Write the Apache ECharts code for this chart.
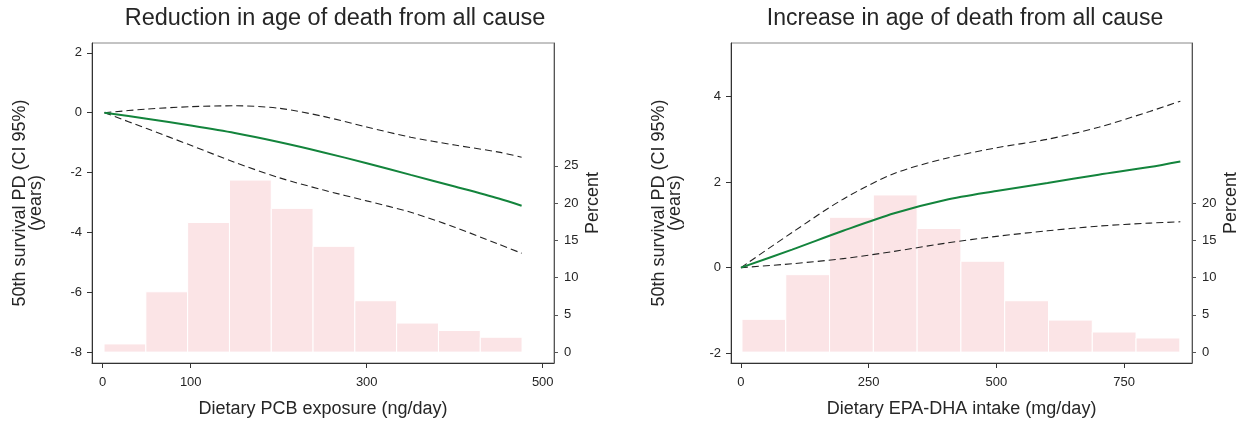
<!DOCTYPE html>
<html>
<head>
<meta charset="utf-8">
<script src="https://cdn.jsdelivr.net/npm/echarts@6/dist/echarts.min.js"></script>
<style>
html,body{margin:0;padding:0;background:#fff;}
#chart{width:1241px;height:423px;}
</style>
</head>
<body>
<div id="chart"></div>
<script>
// ---- Left panel: PCB ----
const pcbTitle = 'Reduction in age of death from all cause';
const pcbXName = 'Dietary PCB exposure (ng/day)';
const pcbXTicks = [0, 100, 300, 500];
const pcbYTicks = [-8, -6, -4, -2, 0, 2];
const pcbPctTicks = [0, 5, 10, 15, 20, 25];
const pcbEdges = [1.5, 49, 96.5, 144, 191.5, 239, 286.5, 334, 381.5, 429, 476.5];
const pcbPercent = [1.1, 8.1, 17.4, 23.1, 19.3, 14.2, 6.9, 3.9, 2.9, 2.0];
const pcbX = [2, 50, 100, 150, 200, 250, 300, 350, 400, 450, 476];
const pcbEst = [0, -0.2, -0.43, -0.68, -0.98, -1.32, -1.69, -2.08, -2.47, -2.87, -3.11];
const pcbUpper = [0, 0.12, 0.2, 0.23, 0.15, -0.12, -0.48, -0.82, -1.08, -1.32, -1.49];
const pcbLower = [0, -0.53, -1.09, -1.66, -2.17, -2.58, -2.95, -3.33, -3.83, -4.40, -4.70];

// ---- Right panel: EPA-DHA ----
const epaTitle = 'Increase in age of death from all cause';
const epaXName = 'Dietary EPA-DHA intake (mg/day)';
const epaXTicks = [0, 250, 500, 750];
const epaYTicks = [-2, 0, 2, 4];
const epaPctTicks = [0, 5, 10, 15, 20];
const epaEdges = [2, 87.7, 173.4, 259.1, 344.8, 430.5, 516.2, 601.9, 687.6, 773.3, 859];
const epaPercent = [4.4, 10.4, 18.1, 21.1, 16.6, 12.2, 6.9, 4.3, 2.7, 1.9];
const epaX = [0, 100, 200, 300, 400, 500, 600, 700, 800, 860];
const epaEst = [0, 0.42, 0.86, 1.27, 1.58, 1.79, 1.98, 2.17, 2.35, 2.48];
const epaUpper = [0, 0.82, 1.6, 2.2, 2.55, 2.8, 3.0, 3.28, 3.65, 3.89];
const epaLower = [0, 0.09, 0.21, 0.38, 0.57, 0.73, 0.86, 0.97, 1.04, 1.07];

const yName = '50th survival PD (CI 95%)\n(years)';
const pctName = 'Percent';

const FONT = "'Liberation Sans', Arial, sans-serif";
const TXT = '#262626';
const AX = '#333';
const PINK = '#fbe4e6';
const GREEN = '#13843c';

function zip(xs, ys) { return xs.map((x, i) => [x, ys[i]]); }
function bins(edges, pct) { return pct.map((p, i) => [edges[i], edges[i + 1], p]); }

function renderBar(params, api) {
  const x0 = api.value(0), x1 = api.value(1), h = api.value(2);
  const p0 = api.coord([x0, 0]);
  const p1 = api.coord([x1, h]);
  return {
    type: 'rect',
    shape: { x: p0[0], y: p1[1], width: p1[0] - p0[0], height: p0[1] - p1[1] },
    style: { fill: PINK, stroke: '#ffffff', lineWidth: 1 }
  };
}

function xAxis(grid, min, max, ticks, name) {
  return {
    type: 'value', gridIndex: grid, min: min, max: max, position: 'bottom',
    name: name, nameLocation: 'middle', nameGap: 37,
    nameTextStyle: { fontSize: 18, color: TXT, fontFamily: FONT },
    splitLine: { show: false },
    axisLine: { show: true, onZero: false, lineStyle: { color: AX, width: 1 } },
    axisTick: { show: true, length: 5, customValues: ticks, lineStyle: { color: AX } },
    axisLabel: { customValues: ticks, fontSize: 13, color: TXT, fontFamily: FONT, margin: 13 }
  };
}
function yAxis(grid, min, max, ticks, name) {
  return {
    type: 'value', gridIndex: grid, min: min, max: max, position: 'left',
    name: name, nameLocation: 'middle', nameGap: 48,
    nameTextStyle: { fontSize: 18, lineHeight: 16, color: TXT, fontFamily: FONT },
    splitLine: { show: false },
    axisLine: { show: true, onZero: false, lineStyle: { color: AX, width: 1 } },
    axisTick: { show: true, length: 5, customValues: ticks, lineStyle: { color: AX } },
    axisLabel: { customValues: ticks, fontSize: 13, color: TXT, fontFamily: FONT, margin: 10 }
  };
}
function pctAxis(grid, ticks) {
  return {
    type: 'value', gridIndex: grid, min: -1.46, max: 41.5, position: 'right',
    name: pctName, nameLocation: 'middle', nameGap: 30,
    nameTextStyle: { fontSize: 18, color: TXT, fontFamily: FONT },
    splitLine: { show: false },
    axisLine: { show: true, onZero: false, lineStyle: { color: '#555', width: 1 } },
    axisTick: { show: true, length: 4, customValues: ticks, lineStyle: { color: '#555' } },
    axisLabel: { customValues: ticks, fontSize: 13, color: TXT, fontFamily: FONT, margin: 10 }
  };
}
function line(xi, yi, data, color, width, type) {
  return {
    type: 'line', xAxisIndex: xi, yAxisIndex: yi, data: data, symbol: 'none',
    smooth: 0.3, silent: true, z: 5,
    lineStyle: { color: color, width: width, type: type }
  };
}

const chart = echarts.init(document.getElementById('chart'), null, { renderer: 'canvas' });
chart.setOption({
  animation: false,
  backgroundColor: '#ffffff',
  graphic: [
    { type: 'text', x: 335, y: 19, style: { text: pcbTitle, font: '23.5px ' + FONT, fill: TXT, textAlign: 'center', textVerticalAlign: 'middle' } },
    { type: 'text', x: 965, y: 19, style: { text: epaTitle, font: '23px ' + FONT, fill: TXT, textAlign: 'center', textVerticalAlign: 'middle' } }
  ],
  grid: [
    { left: 92, top: 43, width: 462, height: 323, show: true, borderColor: '#888', borderWidth: 1, containLabel: false },
    { left: 731, top: 43, width: 462, height: 323, show: true, borderColor: '#888', borderWidth: 1, containLabel: false }
  ],
  xAxis: [
    xAxis(0, -12.2, 512.8, pcbXTicks, pcbXName),
    xAxis(1, -19.5, 882.8, epaXTicks, epaXName)
  ],
  yAxis: [
    yAxis(0, -8.37, 2.33, pcbYTicks, yName),
    pctAxis(0, pcbPctTicks),
    yAxis(1, -2.23, 5.25, epaYTicks, yName),
    pctAxis(1, epaPctTicks)
  ],
  series: [
    { type: 'custom', xAxisIndex: 0, yAxisIndex: 1, renderItem: renderBar, data: bins(pcbEdges, pcbPercent), encode: { x: [0, 1], y: 2 }, z: 1, silent: true },
    { type: 'custom', xAxisIndex: 1, yAxisIndex: 3, renderItem: renderBar, data: bins(epaEdges, epaPercent), encode: { x: [0, 1], y: 2 }, z: 1, silent: true },
    line(0, 0, zip(pcbX, pcbUpper), '#222', 1.1, [7, 4]),
    line(0, 0, zip(pcbX, pcbLower), '#222', 1.1, [7, 4]),
    line(0, 0, zip(pcbX, pcbEst), GREEN, 2, 'solid'),
    line(1, 2, zip(epaX, epaUpper), '#222', 1.1, [7, 4]),
    line(1, 2, zip(epaX, epaLower), '#222', 1.1, [7, 4]),
    line(1, 2, zip(epaX, epaEst), GREEN, 2, 'solid')
  ]
});
</script>
</body>
</html>
